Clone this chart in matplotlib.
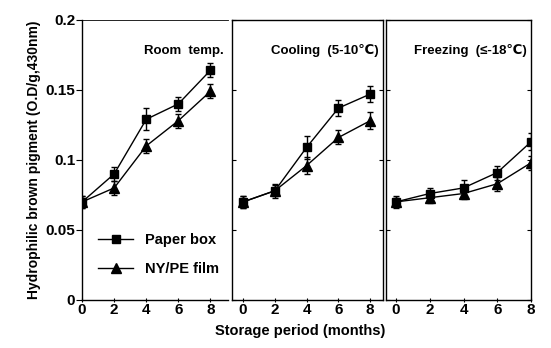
import numpy as np
import matplotlib
matplotlib.use('Agg')
import matplotlib.pyplot as plt
from matplotlib.lines import Line2D

plt.rcParams['font.family'] = ['Liberation Sans', 'DejaVu Sans']
plt.rcParams['font.weight'] = 'bold'

months = [0, 2, 4, 6, 8]

# room temp.
room_paper = [0.070, 0.090, 0.129, 0.140, 0.164]
room_paper_err = [0.004, 0.005, 0.008, 0.005, 0.005]
room_film = [0.070, 0.080, 0.110, 0.128, 0.149]
room_film_err = [0.004, 0.005, 0.005, 0.005, 0.005]

# cooling (5-10C)
cool_paper = [0.070, 0.078, 0.109, 0.137, 0.147]
cool_paper_err = [0.004, 0.005, 0.008, 0.006, 0.006]
cool_film = [0.070, 0.078, 0.096, 0.116, 0.128]
cool_film_err = [0.004, 0.004, 0.006, 0.005, 0.006]

# freezing (<=-18C)
frz_paper = [0.070, 0.076, 0.080, 0.091, 0.113]
frz_paper_err = [0.004, 0.004, 0.006, 0.005, 0.006]
frz_film = [0.070, 0.073, 0.076, 0.083, 0.098]
frz_film_err = [0.003, 0.004, 0.004, 0.005, 0.005]

panel_titles = ['Room  temp.', 'Cooling  (5-10\u2103)', 'Freezing  (\u2264-18\u2103)']

fig = plt.figure(figsize=(5.51, 3.48), dpi=100)
bot, top = 0.138, 0.943
ax1 = fig.add_axes([0.149, bot, 0.265, top - bot])
ax2 = fig.add_axes([0.421, bot, 0.274, top - bot])
ax3 = fig.add_axes([0.700, bot, 0.264, top - bot])

data = [
    (ax1, room_paper, room_paper_err, room_film, room_film_err, (0, 9.1)),
    (ax2, cool_paper, cool_paper_err, cool_film, cool_film_err, (-0.7, 8.8)),
    (ax3, frz_paper, frz_paper_err, frz_film, frz_film_err, (-0.6, 8.0)),
]

for i, (ax, p, pe, f, fe, xl) in enumerate(data):
    ax.errorbar(months, p, yerr=pe, color='black', marker='s', ms=6,
                lw=1.0, capsize=2, elinewidth=1)
    ax.errorbar(months, f, yerr=fe, color='black', marker='^', ms=7,
                lw=1.0, capsize=2, elinewidth=1)
    ax.set_xlim(*xl)
    ax.set_ylim(0, 0.2)
    ax.set_xticks(months)
    ax.set_yticks([0, 0.05, 0.1, 0.15, 0.2])
    for s in ax.spines.values():
        s.set_linewidth(1.0)
    ax.tick_params(axis='x', labelsize=11, length=3, direction='inout', pad=1)
    ax.text(0.97, 0.89, panel_titles[i], transform=ax.transAxes,
            ha='right', va='center', fontsize=9.5, fontweight='bold')
    if i == 0:
        ax.set_yticklabels(['0', '0.05', '0.1', '0.15', '0.2'])
        ax.tick_params(axis='y', labelsize=11, length=4, direction='out', pad=1)
        ax.spines['right'].set_visible(False)
        ax.spines['top'].set_linewidth(0.6)
    else:
        ax.tick_params(axis='y', labelleft=False, left=True, right=True,
                       direction='in', length=3)

handles = [Line2D([], [], color='black', marker='s', ms=6, lw=1.0),
           Line2D([], [], color='black', marker='^', ms=7, lw=1.0)]
ax1.legend(handles, ['Paper box', 'NY/PE film'], loc='lower left',
           bbox_to_anchor=(0.02, 0.04), frameon=False, fontsize=10.5,
           handlelength=2.4, labelspacing=1.0, numpoints=1)

ax1.set_ylabel('Hydrophilic brown pigment (O.D/g,430nm)', fontsize=10,
               fontweight='bold', labelpad=3)
fig.text(0.545, 0.05, 'Storage period (months)', ha='center', va='center',
         fontsize=10.5, fontweight='bold')

fig.savefig('out.png', dpi=100)
